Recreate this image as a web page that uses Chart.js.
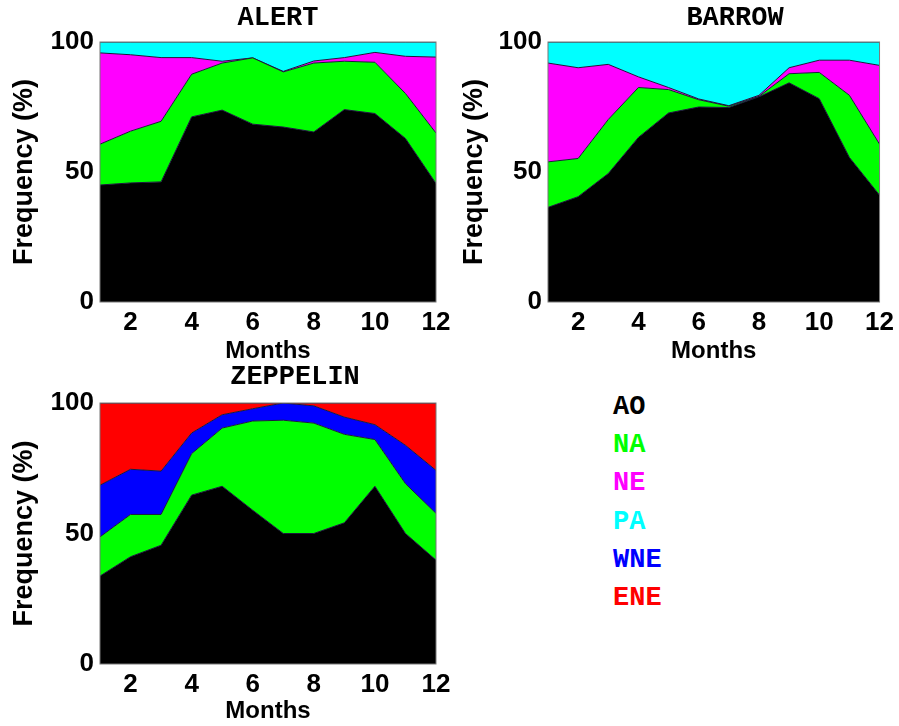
<!DOCTYPE html>
<html lang="en">
<head>
    <meta charset="UTF-8">
    <title>Frequency by month</title>
    <script src="https://cdn.jsdelivr.net/npm/chart.js"></script>
    <style>
        body {
            margin: 0;
            background: white;
            width: 899px;
            height: 726px;
            position: relative;
            overflow: hidden;
        }

        canvas {
            position: absolute;
        }

        .titulo, .legenda {
            position: absolute;
            font-family: "Courier New", "Liberation Mono", monospace;
            font-weight: bold;
            font-size: 27px;
            line-height: 30px;
            white-space: nowrap;
        }

        .titulo {
            transform: translate(-50%, -50%);
        }

        .legenda {
            transform: translateY(-50%);
        }
    </style>
</head>
<body>

    <canvas id="alert" width="470" height="370" style="left:0;top:0"></canvas>
    <canvas id="barrow" width="449" height="370" style="left:450px;top:0"></canvas>
    <canvas id="zeppelin" width="470" height="366" style="left:0;top:360px"></canvas>

    <div class="titulo" style="left:278px;top:18px">ALERT</div>
    <div class="titulo" style="left:735px;top:18px">BARROW</div>
    <div class="titulo" style="left:295px;top:377px">ZEPPELIN</div>

    <div id="legendas"></div>

    <script>
        // meses e ticks
        const months = [1, 2, 3, 4, 5, 6, 7, 8, 9, 10, 11, 12];
        const xTicks = [2, 4, 6, 8, 10, 12];
        const yTicks = [0, 50, 100];

        // ALERT (%)
        const alertAO = [45.0, 45.8, 46.2, 71.2, 73.8, 68.4, 67.3, 65.4, 74.0, 72.5, 62.9, 45.6];
        const alertNA = [15.7, 19.9, 23.3, 16.4, 18.1, 25.5, 21.2, 26.5, 18.6, 19.7, 17.3, 19.4];
        const alertNE = [35.1, 29.4, 24.5, 6.4, 0.7, 0.0, 0.2, 0.8, 1.4, 3.8, 14.3, 29.2];
        const alertPA = [4.2, 4.9, 6.0, 6.0, 7.4, 6.1, 11.3, 7.3, 6.0, 4.0, 5.5, 5.8];

        // BARROW (%)
        const barrowAO = [36.4, 40.5, 49.4, 63.3, 72.7, 75.0, 74.8, 78.9, 84.3, 78.2, 55.6, 41.1];
        const barrowNA = [17.5, 14.7, 20.8, 19.2, 9.0, 2.8, 0.5, 0.2, 3.5, 10.1, 23.9, 19.6];
        const barrowNE = [38.0, 34.9, 21.2, 4.1, 0.8, 0.3, 0.2, 0.4, 2.3, 4.7, 13.5, 30.3];
        const barrowPA = [8.1, 9.9, 8.6, 13.4, 17.5, 21.9, 24.5, 20.5, 9.9, 7.0, 7.0, 9.0];

        // ZEPPELIN (%)
        const zeppelinAO = [33.7, 41.1, 45.5, 64.7, 68.1, 58.9, 50.0, 50.0, 54.1, 68.1, 50.0, 39.8];
        const zeppelinNA = [15.0, 16.2, 11.8, 15.9, 22.3, 34.2, 43.4, 42.3, 33.9, 17.9, 19.1, 17.9];
        const zeppelinWNE = [19.8, 17.3, 16.6, 7.9, 5.1, 4.7, 6.6, 6.6, 6.6, 5.7, 14.7, 16.5];
        const zeppelinENE = [31.5, 25.4, 26.1, 11.5, 4.5, 2.2, 0.0, 1.1, 5.4, 8.3, 16.2, 25.8];

        const cores = {
            AO: "#000000",
            NA: "#00ff00",
            NE: "#ff00ff",
            PA: "#00ffff",
            WNE: "#0000ff",
            ENE: "#ff0000"
        };

        const fonteEixo = 'Arial, "Liberation Sans", sans-serif';

        // moldura em volta da área do gráfico
        const moldura = {
            id: "moldura",
            afterDatasetsDraw(chart) {
                const a = chart.chartArea;
                const ctx = chart.ctx;
                ctx.save();
                ctx.strokeStyle = "#777";
                ctx.lineWidth = 1;
                ctx.strokeRect(a.left, a.top, a.right - a.left, a.bottom - a.top);
                ctx.restore();
            }
        };

        function criarGrafico(id, series, larguraY, alturaX, padding) {
            const datasets = series.map(function (s, i) {
                return {
                    label: s.nome,
                    data: months.map(function (m, j) { return { x: m, y: s.valores[j] }; }),
                    backgroundColor: cores[s.nome],
                    borderColor: "#1a1a3a",
                    borderWidth: 1,
                    pointRadius: 0,
                    tension: 0,
                    fill: i === 0 ? "origin" : "-1"
                };
            });

            new Chart(document.getElementById(id), {
                type: "line",
                data: { datasets: datasets },
                plugins: [moldura],
                options: {
                    responsive: false,
                    animation: false,
                    layout: { padding: padding },
                    plugins: {
                        legend: { display: false },
                        tooltip: { enabled: false }
                    },
                    scales: {
                        x: {
                            type: "linear",
                            min: 1,
                            max: 12,
                            grid: { display: false, drawTicks: false },
                            border: { display: false },
                            afterBuildTicks: function (axis) {
                                axis.ticks = xTicks.map(function (v) { return { value: v }; });
                            },
                            afterFit: function (axis) { axis.height = alturaX; },
                            ticks: {
                                padding: 5,
                                maxRotation: 0,
                                color: "#000",
                                font: { family: fonteEixo, size: 26, weight: "bold" }
                            },
                            title: {
                                display: true,
                                text: "Months",
                                color: "#000",
                                padding: { top: 0, bottom: 0 },
                                font: { family: fonteEixo, size: 24, weight: "bold" }
                            }
                        },
                        y: {
                            stacked: true,
                            min: 0,
                            max: 100,
                            grid: { display: false, drawTicks: false },
                            border: { display: false },
                            afterBuildTicks: function (axis) {
                                axis.ticks = yTicks.map(function (v) { return { value: v }; });
                            },
                            afterFit: function (axis) { axis.width = larguraY; },
                            ticks: {
                                padding: 6,
                                color: "#000",
                                font: { family: fonteEixo, size: 26, weight: "bold" }
                            },
                            title: {
                                display: true,
                                text: "Frequency (%)",
                                color: "#000",
                                padding: { top: 8, bottom: 0 },
                                font: { family: fonteEixo, size: 27, weight: "bold" }
                            }
                        }
                    }
                }
            });
        }

        criarGrafico("alert", [
            { nome: "AO", valores: alertAO },
            { nome: "NA", valores: alertNA },
            { nome: "NE", valores: alertNE },
            { nome: "PA", valores: alertPA }
        ], 100, 64, { top: 42, right: 34, bottom: 4, left: 0 });

        criarGrafico("barrow", [
            { nome: "AO", valores: barrowAO },
            { nome: "NA", valores: barrowNA },
            { nome: "NE", valores: barrowNE },
            { nome: "PA", valores: barrowPA }
        ], 98, 64, { top: 42, right: 15, bottom: 4, left: 0 });

        criarGrafico("zeppelin", [
            { nome: "AO", valores: zeppelinAO },
            { nome: "NA", valores: zeppelinNA },
            { nome: "WNE", valores: zeppelinWNE },
            { nome: "ENE", valores: zeppelinENE }
        ], 100, 62, { top: 43, right: 34, bottom: 0, left: 0 });

        // legenda em texto colorido
        const nomesLegenda = ["AO", "NA", "NE", "PA", "WNE", "ENE"];
        const caixa = document.getElementById("legendas");
        nomesLegenda.forEach(function (nome, i) {
            const d = document.createElement("div");
            d.className = "legenda";
            d.textContent = nome;
            d.style.color = cores[nome];
            d.style.left = "613px";
            d.style.top = (407 + i * 38.2) + "px";
            caixa.appendChild(d);
        });
    </script>

</body>
</html>
